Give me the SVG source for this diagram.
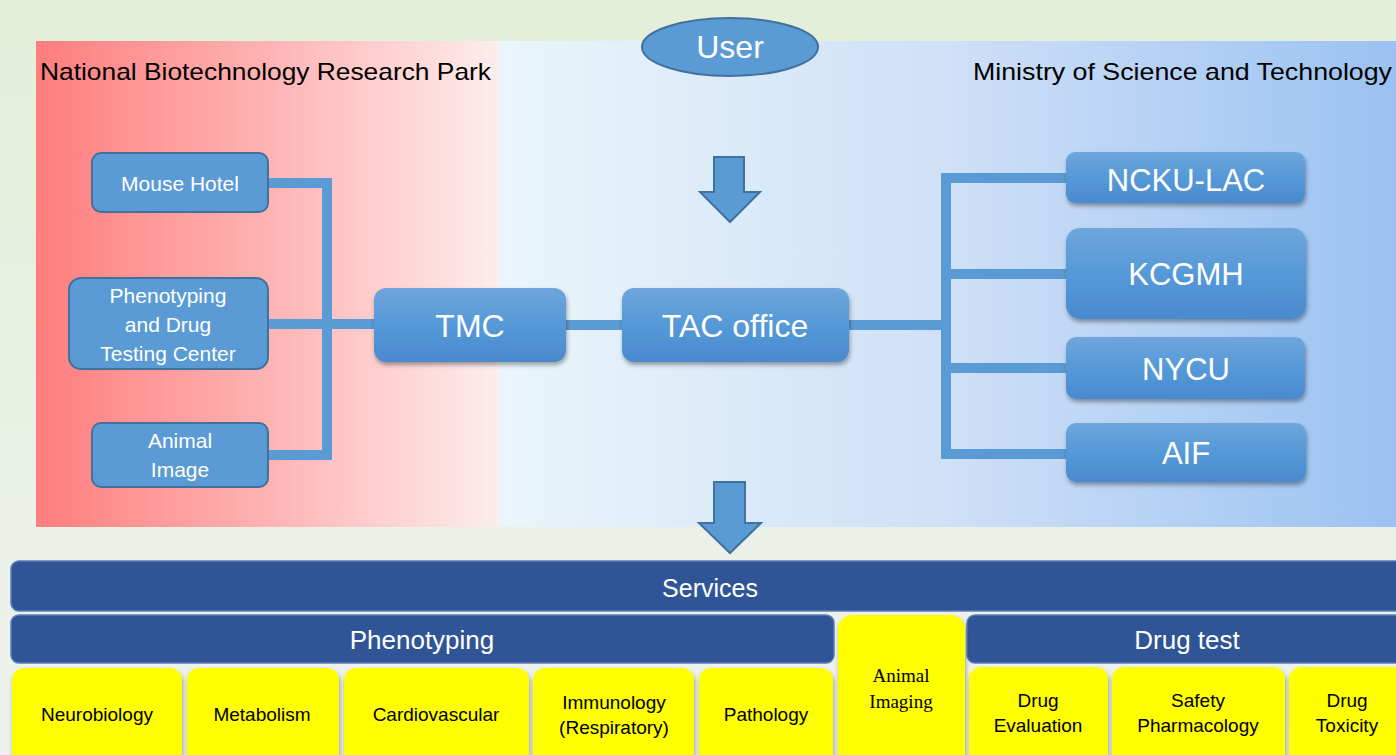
<svg xmlns="http://www.w3.org/2000/svg" width="1396" height="755" viewBox="0 0 1396 755">
<defs>
<linearGradient id="bg" x1="0" y1="0" x2="0" y2="1">
<stop offset="0" stop-color="#e3efd9"/>
<stop offset="1" stop-color="#eef2ee"/>
</linearGradient>
<linearGradient id="redPanel" x1="0" y1="0" x2="1" y2="0">
<stop offset="0" stop-color="#ff7d7d"/>
<stop offset="0.5" stop-color="#ffb3b3"/>
<stop offset="1" stop-color="#fdeded"/>
</linearGradient>
<linearGradient id="bluePanel" x1="0" y1="0" x2="1" y2="0">
<stop offset="0" stop-color="#eaf6fb"/>
<stop offset="0.5" stop-color="#cfe0f7"/>
<stop offset="1" stop-color="#9bc2f2"/>
</linearGradient>
<linearGradient id="boxGrad" x1="0" y1="0" x2="0" y2="1">
<stop offset="0" stop-color="#6fa6dc"/>
<stop offset="0.5" stop-color="#5599d8"/>
<stop offset="1" stop-color="#4a8ace"/>
</linearGradient>
<filter id="shadow" x="-10%" y="-10%" width="130%" height="140%">
<feDropShadow dx="1" dy="3" stdDeviation="2" flood-color="#000" flood-opacity="0.35"/>
</filter>
</defs>
<style>
.flat{fill:#5b9bd5;stroke:#41719c;stroke-width:2}
.grad{fill:url(#boxGrad);filter:url(#shadow)}
.bar{fill:#2f5597;stroke:#5a7cb8;stroke-width:1.5}
.yel{fill:#ffff00;filter:url(#shadow)}
.conn{stroke:#5b9bd5;stroke-width:10;fill:none}
.wt{fill:#ffffff;font-family:"Liberation Sans",Arial,sans-serif;text-anchor:middle}
.bk{fill:#000000;font-family:"Liberation Sans",Arial,sans-serif;text-anchor:middle;font-size:19px}
.hd{fill:#000000;font-family:"Liberation Sans",Arial,sans-serif;font-size:24px}
.ser{fill:#000000;font-family:"Liberation Serif","Times New Roman",serif;text-anchor:middle;font-size:19px}
</style>
<rect x="0" y="0" width="1396" height="755" fill="url(#bg)"/>
<g id="panels">
<rect x="36" y="41" width="463" height="486" fill="url(#redPanel)"/>
<rect x="499" y="41" width="897" height="486" fill="url(#bluePanel)"/>
<text class="hd" x="40" y="80" textLength="451" lengthAdjust="spacingAndGlyphs">National Biotechnology Research Park</text>
<text class="hd" x="973" y="80" textLength="419" lengthAdjust="spacingAndGlyphs">Ministry of Science and Technology</text>
</g>
<g id="connectors">
<polyline class="conn" points="268,183 327,183 327,455 268,455"/>
<line class="conn" x1="268" y1="324" x2="376" y2="324"/>
<line class="conn" x1="566" y1="325" x2="622" y2="325"/>
<line class="conn" x1="849" y1="325" x2="946" y2="325"/>
<polyline class="conn" points="1068,178 946,178 946,454 1068,454"/>
<line class="conn" x1="946" y1="274" x2="1068" y2="274"/>
<line class="conn" x1="946" y1="368" x2="1068" y2="368"/>
<path id="arrow1" class="flat" d="M714,157 L744,157 L744,192 L760,192 L730,222 L700,192 L714,192 Z"/>
<path id="arrow2" class="flat" d="M714,482 L745,482 L745,523 L761,523 L730,553 L699,523 L714,523 Z"/>
</g>
<g id="user">
<ellipse class="flat" cx="730" cy="47" rx="88" ry="29"/>
<text class="wt" x="730" y="58" font-size="32">User</text>
</g>
<g id="mouse-hotel">
<rect class="flat" x="92" y="153" width="176" height="59" rx="9"/>
<text class="wt" x="180" y="191" font-size="21">Mouse Hotel</text>
</g>
<g id="phenotyping-center">
<rect class="flat" x="69" y="278" width="199" height="91" rx="12"/>
<text class="wt" x="168" y="303" font-size="21">Phenotyping</text>
<text class="wt" x="168" y="332" font-size="21">and Drug</text>
<text class="wt" x="168" y="361" font-size="21">Testing Center</text>
</g>
<g id="animal-image">
<rect class="flat" x="92" y="423" width="176" height="64" rx="9"/>
<text class="wt" x="180" y="448" font-size="21">Animal</text>
<text class="wt" x="180" y="477" font-size="21">Image</text>
</g>
<g id="tmc">
<rect class="grad" x="374" y="288" width="192" height="74" rx="12"/>
<text class="wt" x="470" y="337" font-size="32">TMC</text>
</g>
<g id="tac-office">
<rect class="grad" x="622" y="288" width="227" height="74" rx="12"/>
<text class="wt" x="735" y="337" font-size="32">TAC office</text>
</g>
<g id="ncku-lac">
<rect class="grad" x="1066" y="152" width="239" height="51" rx="9"/>
<text class="wt" x="1186" y="191" font-size="31">NCKU-LAC</text>
</g>
<g id="kcgmh">
<rect class="grad" x="1066" y="228" width="240" height="91" rx="14"/>
<text class="wt" x="1186" y="285" font-size="31">KCGMH</text>
</g>
<g id="nycu">
<rect class="grad" x="1066" y="337" width="239" height="62" rx="10"/>
<text class="wt" x="1186" y="380" font-size="31">NYCU</text>
</g>
<g id="aif">
<rect class="grad" x="1066" y="423" width="240" height="59" rx="10"/>
<text class="wt" x="1186" y="464" font-size="31">AIF</text>
</g>
<g id="services">
<rect class="bar" x="11" y="561" width="1400" height="50" rx="8"/>
<text class="wt" x="710" y="597" font-size="25">Services</text>
</g>
<g id="phenotyping">
<rect class="bar" x="11" y="615" width="823" height="48" rx="8"/>
<text class="wt" x="422" y="649" font-size="26">Phenotyping</text>
</g>
<g id="drug-test">
<rect class="bar" x="967" y="615" width="440" height="48" rx="8"/>
<text class="wt" x="1187" y="649" font-size="26">Drug test</text>
</g>
<g id="neurobiology">
<rect class="yel" x="12" y="668" width="170" height="100" rx="12"/>
<text class="bk" x="97" y="721">Neurobiology</text>
</g>
<g id="metabolism">
<rect class="yel" x="187" y="668" width="152" height="100" rx="12"/>
<text class="bk" x="262" y="721">Metabolism</text>
</g>
<g id="cardiovascular">
<rect class="yel" x="344" y="668" width="185" height="100" rx="12"/>
<text class="bk" x="436" y="721">Cardiovascular</text>
</g>
<g id="immunology">
<rect class="yel" x="533" y="668" width="161" height="100" rx="12"/>
<text class="bk" x="614" y="709">Immunology</text>
<text class="bk" x="614" y="734">(Respiratory)</text>
</g>
<g id="pathology">
<rect class="yel" x="699" y="668" width="134" height="100" rx="12"/>
<text class="bk" x="766" y="721">Pathology</text>
</g>
<g id="animal-imaging">
<rect class="yel" x="838" y="615" width="127" height="160" rx="14"/>
<text class="ser" x="901" y="682">Animal</text>
<text class="ser" x="901" y="708">Imaging</text>
</g>
<g id="drug-evaluation">
<rect class="yel" x="969" y="667" width="139" height="100" rx="12"/>
<text class="bk" x="1038" y="707">Drug</text>
<text class="bk" x="1038" y="732">Evaluation</text>
</g>
<g id="safety-pharmacology">
<rect class="yel" x="1112" y="667" width="173" height="100" rx="12"/>
<text class="bk" x="1198" y="707">Safety</text>
<text class="bk" x="1198" y="732">Pharmacology</text>
</g>
<g id="drug-toxicity">
<rect class="yel" x="1289" y="667" width="130" height="100" rx="12"/>
<text class="bk" x="1347" y="707">Drug</text>
<text class="bk" x="1347" y="732">Toxicity</text>
</g>
</svg>
